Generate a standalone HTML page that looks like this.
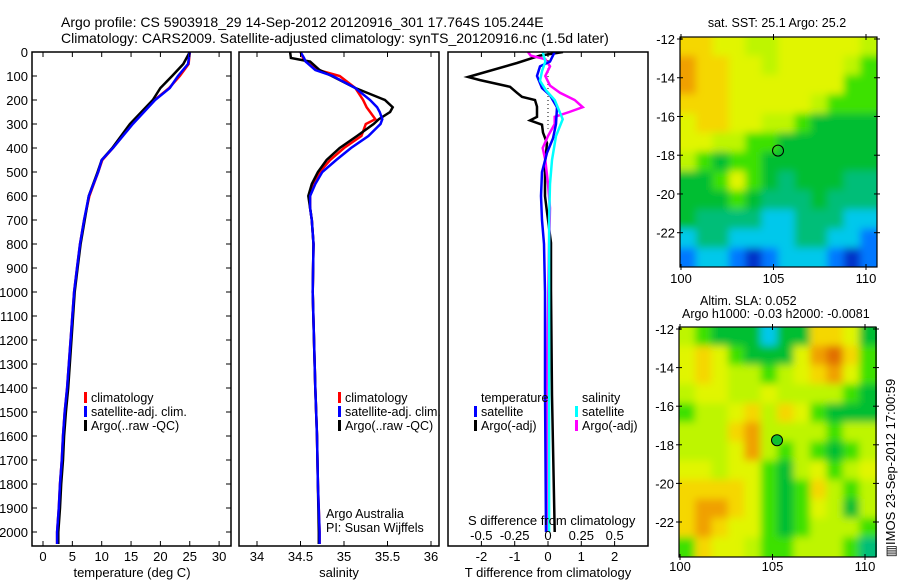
<!DOCTYPE html>
<html><head><meta charset="utf-8"><style>
body{margin:0;background:#fff;}
svg{display:block;font-family:"Liberation Sans",sans-serif;}
text{fill:#000;}
</style></head><body>
<svg id="fig" width="900" height="580" viewBox="0 0 900 580" xmlns="http://www.w3.org/2000/svg">
<defs>
<clipPath id="c1"><rect x="32" y="52" width="199" height="494"/></clipPath>
<clipPath id="c2"><rect x="239" y="52" width="200" height="494"/></clipPath>
<clipPath id="c3"><rect x="448" y="52" width="200" height="494"/></clipPath>
<clipPath id="m1c"><rect x="680" y="37" width="197" height="230"/></clipPath>
<clipPath id="m2c"><rect x="679" y="327" width="198" height="230"/></clipPath>
<filter id="bl" filterUnits="userSpaceOnUse" x="650" y="10" width="250" height="570"><feGaussianBlur stdDeviation="4"/></filter>
</defs>
<text x="61" y="27" font-size="14">Argo profile: CS 5903918_29 14-Sep-2012 20120916_301 17.764S 105.244E</text>
<text x="61" y="43" font-size="14">Climatology: CARS2009. Satellite-adjusted climatology: synTS_20120916.nc (1.5d later)</text>
<g id="g1"></g>
<g id="g2"></g>
<g id="g3"></g>
<g id="gm1"></g>
<g id="gm2"></g>
<text transform="translate(895,468) rotate(-90)" text-anchor="middle" font-size="13">▥IMOS 23-Sep-2012 17:00:59</text>
</svg>
<script>
// ---------- data ----------
const tDepth=[0,50,100,150,200,300,400,450,500,600,700,800,900,1000,1400,1500,1600,1700,1800,1900,2000,2050];
const tClim=[25.0,24.8,23.3,21.5,19.0,15.2,11.9,10.1,9.4,7.9,7.0,6.3,5.8,5.3,4.1,3.7,3.4,3.2,2.9,2.7,2.4,2.4];
const tSat=[25.0,24.7,23.0,21.6,19.1,15.3,11.9,10.0,9.4,7.8,7.0,6.3,5.8,5.3,4.1,3.7,3.4,3.2,2.9,2.7,2.4,2.4];
const tArgo=[25.0,23.9,22.0,20.0,18.7,14.8,11.8,10.0,9.3,7.8,7.1,6.4,5.9,5.4,4.3,3.9,3.6,3.4,3.1,2.9,2.6,2.6];
const sDepth=[0,25,40,75,100,150,200,230,250,280,300,350,400,450,500,550,600,650,700,800,1000,1400,1600,1800,2000,2050];
const sClim=[34.5,34.53,34.56,34.7,34.95,35.13,35.22,35.26,35.3,35.36,35.25,35.2,35.0,34.84,34.72,34.64,34.61,34.61,34.63,34.65,34.64,34.67,34.69,34.7,34.72,34.72];
const sSat=[34.5,34.54,34.56,34.67,34.87,35.13,35.3,35.38,35.41,35.44,35.42,35.28,35.08,34.91,34.75,34.67,34.61,34.61,34.63,34.65,34.64,34.67,34.69,34.7,34.72,34.72];
const sArgo=[34.38,34.39,34.61,34.72,34.86,35.13,35.47,35.56,35.53,35.4,35.34,35.15,34.95,34.8,34.7,34.63,34.59,34.61,34.63,34.65,34.64,34.67,34.69,34.7,34.71,34.71];
const dDepth=[0,15,46,104,117,145,170,187,200,228,270,285,303,336,380,463,600,667,795,990,1430,2000];
const dTArgo=[0.45,-0.24,-0.93,-2.4,-2.04,-1.14,-0.93,-0.78,-0.39,-0.33,-0.33,-0.54,-0.18,-0.15,-0.03,-0.09,-0.09,-0.03,0.09,0.09,0.12,0.2];
const dSDepth=[0,40,60,100,150,180,230,300,360,420,500,600,700,800,1000,1400,2000];
const dTSat=[0.2,0.06,-0.24,-0.33,-0.18,0.06,0.27,0.24,0.15,-0.03,-0.18,-0.21,-0.18,-0.12,-0.09,-0.09,-0.06];
const dSSatDepth=[0,40,80,120,160,200,280,350,450,550,700,2000];
const dSSat=[-0.04,-0.02,-0.045,-0.06,-0.015,0.05,0.11,0.06,0.03,0.015,0.008,0.008];
const dSArgoDepth=[0,15,30,60,100,140,170,200,230,250,270,300,350,400,450,550,650,800,1400,2000];
const dSArgo=[-0.15,-0.13,-0.02,0.015,-0.02,0.015,0.09,0.2,0.26,0.16,0.05,0.05,0.0,-0.04,-0.02,0.0,0.015,0.008,-0.01,-0.01];
const depthTicks=[0,100,200,300,400,500,600,700,800,900,1000,1100,1200,1300,1400,1500,1600,1700,1800,1900,2000];
const tTicks=[0,5,10,15,20,25,30];
const sTicks=["34","34.5","35","35.5","36"];
const dTTicks=["-2","-1","0","1","2"];
const dSTicks=["-0.5","-0.25","0","0.25","0.5"];
const sst=[
[9,9,8,8,7,7,8,8,8,8,8,7],
[10,9,9,8,8,7,8,8,8,8,7,6],
[10,9,9,8,8,8,8,8,8,8,6,6],
[9,9,9,8,8,8,8,8,7,6,6,6],
[8,9,9,8,8,7,7,6,5,5,5,5],
[8,8,7,7,6,6,5,5,5,5,5,5],
[7,6,5,6,6,5,5,5,5,5,5,5],
[5,5,6,8,6,5,4,5,5,5,4,4],
[5,5,5,6,5,4,4,4,5,4,4,4],
[5,4,4,4,4,3,3,4,4,4,3,3],
[3,4,4,3,3,3,3,4,4,3,3,2],
[2,3,3,2,1,2,3,3,3,2,1,2]];
const sla=[
[7,6,5,5,5,3,5,5,9,9,8,5],
[8,9,8,6,5,5,5,8,10,11,9,6],
[8,9,8,7,7,6,7,8,9,10,8,6],
[7,8,8,7,7,8,7,7,7,7,6,5],
[6,7,7,8,9,7,9,8,6,5,5,5],
[7,7,7,9,10,7,7,7,7,6,7,7],
[7,7,7,8,10,7,6,7,6,5,6,7],
[8,8,7,8,8,6,5,7,8,6,7,8],
[9,9,9,9,8,6,5,6,9,7,6,7],
[9,10,10,9,8,6,5,6,8,7,5,7],
[9,10,9,8,8,6,5,6,7,7,7,6],
[6,9,8,8,7,6,6,7,7,7,6,4]];
const lonTicks=[100,105,110];
const latTicks=[-12,-14,-16,-18,-20,-22];
const argoLon=105.244, argoLat=-17.764;

// ---------- helpers ----------
const NS="http://www.w3.org/2000/svg";
function mk(tag,attrs,parent){const e=document.createElementNS(NS,tag);for(const k in attrs)e.setAttribute(k,attrs[k]);parent.appendChild(e);return e;}
function txt(s,x,y,size,anchor,parent){const t=mk('text',{x:x,y:y,'font-size':size,'text-anchor':anchor||'start'},parent);t.textContent=s;return t;}
const yD=d=>52+d*0.24;
const xT=t=>43+t*5.87;
const xS=s=>257+(s-34)*87;
const xDT=v=>548+v*33.3;
const xDS=v=>548+v*133.3;
function line(xs,ds,xf,color,parent,clip,w){
  let pts=[];for(let i=0;i<xs.length;i++){pts.push(xf(xs[i]).toFixed(1)+','+yD(ds[i]).toFixed(1));}
  return mk('polyline',{points:pts.join(' '),fill:'none',stroke:color,'stroke-width':w||2.5,'clip-path':'url(#'+clip+')'},parent);
}
function frame(x,y,w,h,parent){return mk('rect',{x:x,y:y,width:w,height:h,fill:'none',stroke:'#000','stroke-width':1.5},parent);}
function legendEntry(parent,x,y,color,label){
  mk('rect',{x:x,y:y-10,width:3,height:11,fill:color},parent);
  txt(label,x+7,y,12.5,'start',parent);
}

// ---------- panel 1 ----------
const g1=document.getElementById('g1');
let l=line(tClim,tDepth,xT,'#f00',g1,'c1');


l=line(tArgo,tDepth,xT,'#000',g1,'c1');


l=line(tSat,tDepth,xT,'#00f',g1,'c1');


frame(32,52,199,494,g1);
depthTicks.forEach(d=>{
  const y=yD(d);
  mk('line',{x1:32,x2:37,y1:y,y2:y,stroke:'#000'},g1);
  mk('line',{x1:226,x2:231,y1:y,y2:y,stroke:'#000'},g1);
  const t=txt(String(d),28,y+5,13,'end',g1);
  
  
});
tTicks.forEach(v=>{
  const x=xT(v);
  mk('line',{x1:x,x2:x,y1:52,y2:57,stroke:'#000'},g1);
  mk('line',{x1:x,x2:x,y1:541,y2:546,stroke:'#000'},g1);
  txt(String(v),x,561,13,'middle',g1);
});
let at=txt('temperature (deg C)',132,577,13,'middle',g1);


legendEntry(g1,84,402,'#f00','climatology');
legendEntry(g1,84,416,'#00f','satellite-adj. clim.');
legendEntry(g1,84,430,'#000','Argo(..raw -QC)');

// ---------- panel 2 ----------
const g2=document.getElementById('g2');
l=line(sClim,sDepth,xS,'#f00',g2,'c2');


l=line(sArgo,sDepth,xS,'#000',g2,'c2');


l=line(sSat,sDepth,xS,'#00f',g2,'c2');


frame(239,52,200,494,g2);
sTicks.forEach(v=>{
  const x=xS(parseFloat(v));
  mk('line',{x1:x,x2:x,y1:52,y2:57,stroke:'#000'},g2);
  mk('line',{x1:x,x2:x,y1:541,y2:546,stroke:'#000'},g2);
  txt(v,x,561,13,'middle',g2);
});
at=txt('salinity',339,577,13,'middle',g2);


legendEntry(g2,338,402,'#f00','climatology');
legendEntry(g2,338,416,'#00f','satellite-adj. clim.');
legendEntry(g2,338,430,'#000','Argo(..raw -QC)');
txt('Argo Australia',326,518,12.5,'start',g2);
txt('PI: Susan Wijffels',326,532,12.5,'start',g2);

// ---------- panel 3 ----------
const g3=document.getElementById('g3');
mk('line',{x1:548,x2:548,y1:52,y2:yD(320),stroke:'#000','stroke-dasharray':'1,3','stroke-width':1},g3);
l=line(dTArgo,dDepth,xDT,'#000',g3,'c3');


l=line(dSArgo,dSArgoDepth,xDS,'#f0f',g3,'c3');


l=line(dTSat,dSDepth,xDT,'#00f',g3,'c3');


l=line(dSSat,dSSatDepth,xDS,'#0ff',g3,'c3');


frame(448,52,200,494,g3);
dTTicks.forEach(v=>{
  const x=xDT(parseFloat(v));
  mk('line',{x1:x,x2:x,y1:52,y2:57,stroke:'#000'},g3);
  mk('line',{x1:x,x2:x,y1:541,y2:546,stroke:'#000'},g3);
  txt(v,x,561,13,'middle',g3);
});
dSTicks.forEach(v=>{
  txt(v,xDS(parseFloat(v)),540,13,'middle',g3);
});
txt('S difference from climatology',468,525,13,'start',g3);
at=txt('T difference from climatology',548,577,13,'middle',g3);


txt('temperature',481,402,12.5,'start',g3);
legendEntry(g3,474,416,'#00f','satellite');
legendEntry(g3,474,430,'#000','Argo(-adj)');
txt('salinity',582,402,12.5,'start',g3);
legendEntry(g3,575,416,'#0ff','satellite');
legendEntry(g3,575,430,'#f0f','Argo(-adj)');

// ---------- maps ----------
const stops=[[1,[0,50,200]],[2,[0,120,255]],[3,[0,200,235]],[4,[0,190,120]],[5,[0,190,50]],[6,[60,225,0]],[7,[190,245,0]],[8,[225,245,0]],[9,[245,215,0]],[10,[240,160,0]],[11,[225,110,0]]];
function cmap(v){
  if(v<=stops[0][0])return stops[0][1];
  for(let i=1;i<stops.length;i++){if(v<=stops[i][0]){const a=stops[i-1],b=stops[i],f=(v-a[0])/(b[0]-a[0]);return a[1].map((c,k)=>Math.round(c+(b[1][k]-c)*f));}}
  return stops[stops.length-1][1];
}
function drawMap(gid,grid,x0,y0,lon0px,lon1px,lat12px,lat22px,clip,circleFill,labelY){
  const g=document.getElementById(gid);
  const xL=lon=>lon0px+(lon-100)*(lon1px-lon0px)/10;
  const yL=lat=>lat12px+(-12-lat)*(lat22px-lat12px)/10;
  const W=197,H=230;
  const cg=mk('g',{'clip-path':'url(#'+clip+')'},g);
  const fg=mk('g',{filter:'url(#bl)'},cg);
  const nr=grid.length,nc=grid[0].length;
  const lonMin=99.95,lonMax=110.6,latMax=-11.9,latMin=-23.8;
  const pad=10;
  for(let r=0;r<nr;r++)for(let c=0;c<nc;c++){
    const la=latMax-(r)*(latMax-latMin)/nr, lb=latMax-(r+1)*(latMax-latMin)/nr;
    const oa=lonMin+c*(lonMax-lonMin)/nc, ob=lonMin+(c+1)*(lonMax-lonMin)/nc;
    let x1=xL(oa)-0.5,x2=xL(ob)+0.5,y1=yL(la)-0.5,y2=yL(lb)+0.5;
    if(c===0)x1-=pad; if(c===nc-1)x2+=pad; if(r===0)y1-=pad; if(r===nr-1)y2+=pad;
    const col=cmap(grid[r][c]);
    const cell=mk('rect',{x:x1,y:y1,width:x2-x1,height:y2-y1,fill:'rgb('+col.join(',')+')'},fg);
    
    
  }
  frame(x0,y0,W,H,g).setAttribute('stroke-width','1.2');
  lonTicks.forEach(v=>{const x=xL(v);mk('line',{x1:x,x2:x,y1:y0-3,y2:y0+3,stroke:'#000'},g);mk('line',{x1:x,x2:x,y1:y0+H-3,y2:y0+H+3,stroke:'#000'},g);txt(String(v),x,labelY,13,'middle',g);});
  latTicks.forEach(v=>{const y=yL(v);mk('line',{x1:x0-3,x2:x0+3,y1:y,y2:y,stroke:'#000'},g);mk('line',{x1:x0+W-3,x2:x0+W+3,y1:y,y2:y,stroke:'#000'},g);txt(String(v),x0-5,y+5,13,'end',g);});
  const m=mk('circle',{cx:xL(argoLon),cy:yL(argoLat),r:5.5,fill:circleFill,stroke:'#000','stroke-width':1},g);
  
  
}
drawMap('gm1',sst,680,37,681,866,39,232.7,'m1c','none',283);
txt('sat. SST: 25.1  Argo: 25.2',777,27,12.5,'middle',document.getElementById('gm1'));
drawMap('gm2',sla,679,327,680,865,329,522,'m2c','#10c030',571);
txt('Altim. SLA: 0.052',700,305,12.5,'start',document.getElementById('gm2'));
txt('Argo h1000: -0.03 h2000: -0.0081',682,318,12.5,'start',document.getElementById('gm2'));
</script>
</body></html>
